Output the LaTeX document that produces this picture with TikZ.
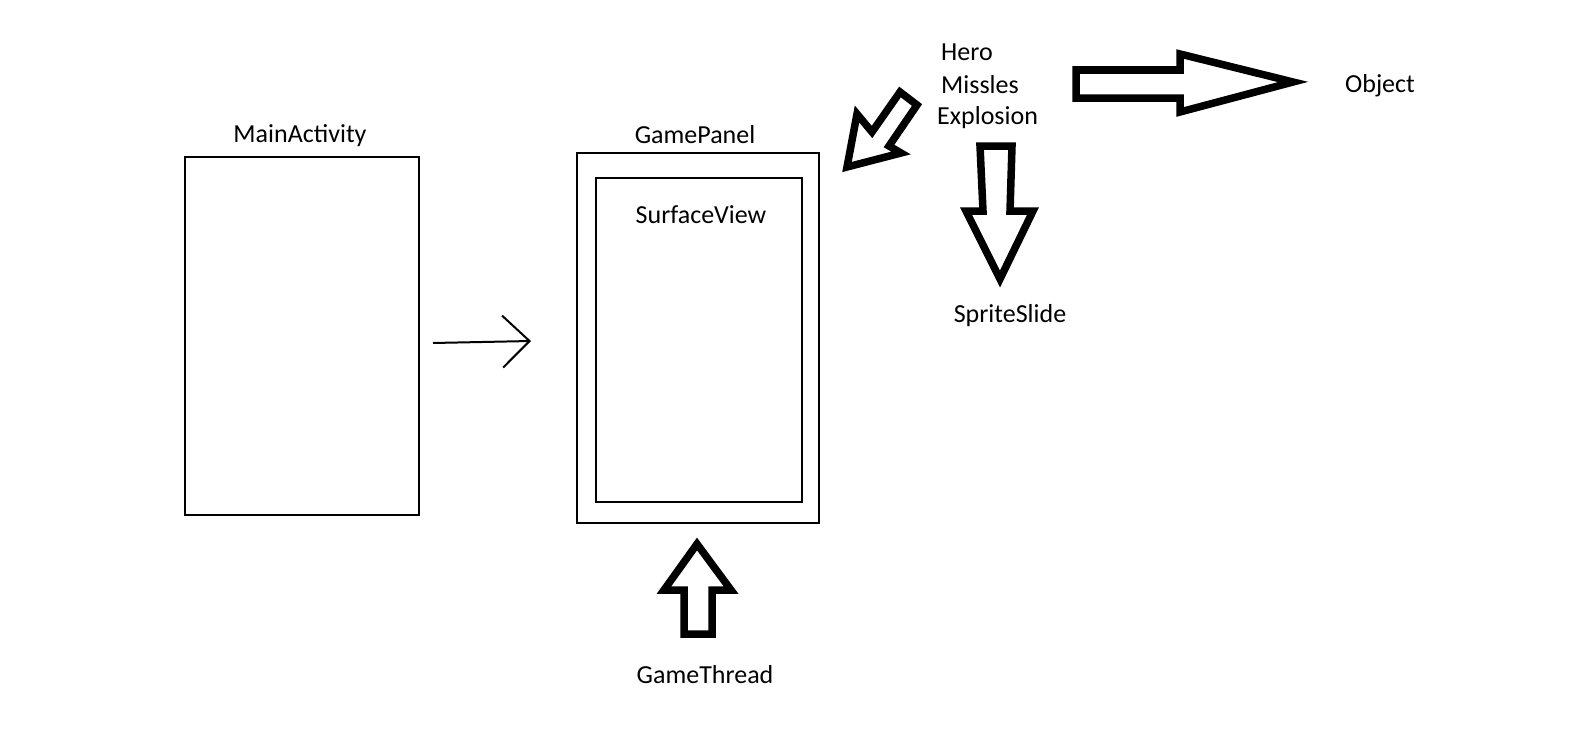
\documentclass[tikz,border=0pt]{standalone}
\usepackage{fontspec}
\setmainfont{Carlito}
\usetikzlibrary{arrows.meta}
\tikzset{
  box/.style={draw=black, line width=2bp, inner sep=0pt, fill=white},
  lbl/.style={inner sep=0pt, anchor=base, font=\fontsize{26bp}{32bp}\selectfont},
  blockarrow/.style={draw=black, line width=7.5bp, line join=miter, fill=white},
  thinarrow/.style={draw=black, line width=2bp, -{Straight Barb[length=27bp,width=52bp,line width=2bp]}}
}
\begin{document}
\begin{tikzpicture}[x=1bp,y=-1bp]
\useasboundingbox[fill=white] (0,0) rectangle (1574,736);
% boxes
\node[box, minimum width=234bp, minimum height=358bp] (main) at (302,336) {};
\node[box, minimum width=242bp, minimum height=370bp] (gp) at (698,338) {};
\node[box, minimum width=206bp, minimum height=324bp] (sv) at (699,340) {};
% labels
\node[lbl] (lmain) at (300,142) {MainActivity};
\node[lbl] (lgp) at (695,143) {GamePanel};
\node[lbl] (lsv) at (701,223) {SurfaceView};
\node[lbl] (lgt) at (705,683) {GameThread};
\node[lbl, anchor=base west] (lhero) at (941,61) {Hero};
\node[lbl, anchor=base west] (lmis) at (941,93) {Missles};
\node[lbl, anchor=base west] (lexp) at (937,124) {Explosion};
\node[lbl] (lobj) at (1380,92) {Object};
\node[lbl] (lss) at (1010,322) {SpriteSlide};
% thin arrow
\draw[thinarrow] ([xshift=13bp,yshift=-7bp]main.east) -- ([xshift=-45bp,yshift=-3bp]gp.west);
% up block arrow (GameThread -> GamePanel)
\draw[blockarrow] (697,544) -- (731,590) -- (712,590) -- (712,634) -- (684,634) -- (684,590) -- (664,590) -- cycle;
% right block arrow (-> Object)
\draw[blockarrow] (1293,82) -- (1180,112) -- (1180,98) -- (1076,98) -- (1076,70) -- (1180,70) -- (1180,54) -- cycle;
% down block arrow (-> SpriteSlide)
\draw[blockarrow] (1000,279) -- (966,211) -- (983,211) -- (980,146) -- (1012,146) -- (1010,211) -- (1033,211) -- cycle;
% diagonal block arrow (-> GamePanel)
\draw[blockarrow] (847,167) -- (857,114) -- (872,132) -- (900,92) -- (917,105) -- (889,146) -- (901,153) -- cycle;
\end{tikzpicture}
\end{document}
